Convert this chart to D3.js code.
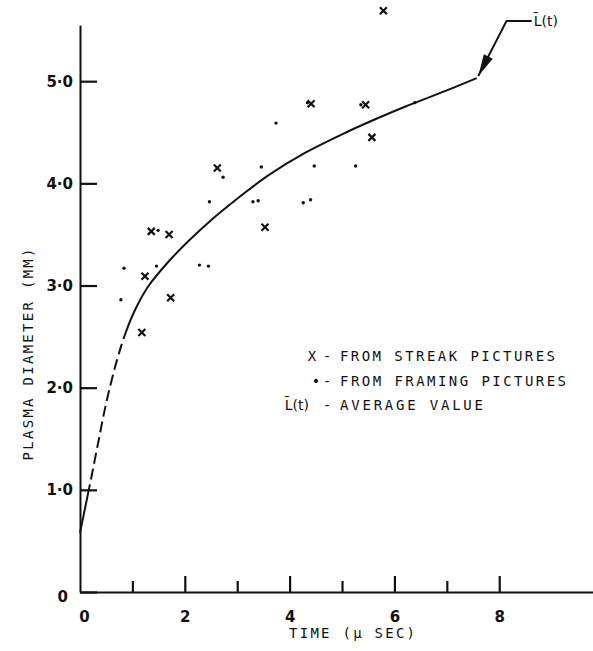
<!DOCTYPE html>
<html>
<head>
<meta charset="utf-8">
<script src="https://cdn.jsdelivr.net/npm/d3@7"></script>
<style>
  body { margin: 0; background: #fff; }
  svg { display: block; }
</style>
</head>
<body>
<svg id="chart" width="593" height="651"></svg>
<script>
// Axis ticks and labels
const xTicks = [0, 1, 2, 3, 4, 5, 6, 7, 8];
const xTickLabels = ["0", "", "2", "", "4", "", "6", "", "8"];
const yTicks = [0, 1, 2, 3, 4, 5];
const yTickLabels = ["0", "1·0", "2·0", "3·0", "4·0", "5·0"];

// Streak-picture measurements (time in µs, diameter in mm)
const streakT = [1.24, 1.18, 1.36, 1.70, 1.73, 2.62, 3.53, 4.41, 5.45, 5.57, 5.79];
const streakV = [3.09, 2.54, 3.53, 3.50, 2.88, 4.15, 3.57, 4.78, 4.77, 4.45, 5.69];

// Framing-picture measurements
const framingT = [0.78, 0.84, 1.46, 1.49, 2.28, 2.45, 2.47, 2.73, 3.30, 3.40, 3.46, 3.74, 4.26, 4.40, 4.47, 4.34, 5.26, 5.36, 6.39];
const framingV = [2.86, 3.17, 3.19, 3.54, 3.20, 3.19, 3.82, 4.06, 3.82, 3.83, 4.16, 4.59, 3.81, 3.84, 4.17, 4.79, 4.17, 4.77, 4.79];

// Average value L(t)
const curveT = [0, 0.10, 0.20, 0.35, 0.50, 0.70, 0.88, 1.05, 1.30, 1.70, 2.10, 2.50, 3.00, 3.60, 4.30, 5.00, 5.60, 6.20, 7.00, 7.57];
const curveV = [0.58, 0.83, 1.08, 1.47, 1.85, 2.26, 2.55, 2.76, 2.99, 3.24, 3.45, 3.64, 3.85, 4.08, 4.30, 4.48, 4.62, 4.75, 4.91, 5.03];
const dashedFrom = 0.19, dashedTo = 0.88;   // extrapolated part of the curve

// Curve label and its leader
const leaderT = [7.60, 8.14, 8.62];
const leaderV = [5.05, 5.59, 5.59];
const curveLabel = "L\u0304(t)";

const legendRows = [
  { sym: "X", text: "FROM STREAK PICTURES" },
  { sym: "\u2022", text: "FROM FRAMING PICTURES" },
  { sym: "L\u0304(t)", text: "AVERAGE VALUE" }
];

const svg = d3.select("#chart");
const x = d3.scaleLinear().domain([0, 9.78]).range([80, 592.5]);
const y = d3.scaleLinear().domain([0, 5.55]).range([592, 25]);

const ink = "#111";
const labelFont = "'DejaVu Sans', sans-serif";
const letterFont = "'DejaVu Sans Mono', monospace";

// Y axis: inward ticks, bold labels
const yAxis = d3.axisLeft(y).tickValues(yTicks).tickSize(-17).tickSizeOuter(0)
  .tickPadding(7).tickFormat((d, i) => yTickLabels[i]);
const gy = svg.append("g").attr("transform", `translate(${x(0)},0)`).call(yAxis);
gy.select(".domain").attr("stroke", ink).attr("stroke-width", 2);
gy.selectAll(".tick line").attr("stroke", ink).attr("stroke-width", 2.2);
gy.selectAll(".tick text").attr("fill", ink).attr("font-family", labelFont)
  .attr("font-weight", "bold").attr("font-size", 15);
gy.selectAll(".tick").filter(d => d === 0).select("text").attr("dx", -5).attr("dy", "0.6em");

// X axis: upward ticks, longer on even values
const xAxis = d3.axisBottom(x).tickValues(xTicks).tickSize(-16).tickSizeOuter(0)
  .tickPadding(19).tickFormat((d, i) => xTickLabels[i]);
const gx = svg.append("g").attr("transform", `translate(0,${y(0)})`).call(xAxis);
gx.select(".domain").attr("stroke", ink).attr("stroke-width", 2);
gx.selectAll(".tick line").attr("stroke", ink).attr("stroke-width", 2.2)
  .attr("y2", d => d === 0 ? 0 : (d % 2 ? -11 : -16));
gx.selectAll(".tick text").attr("fill", ink).attr("font-family", labelFont)
  .attr("font-weight", "bold").attr("font-size", 15);
gx.selectAll(".tick").filter(d => d === 0).select("text").attr("dx", 4);

// Axis titles
svg.append("text")
  .attr("transform", `translate(33,${(y(1.3) + y(3.35)) / 2}) rotate(-90)`)
  .attr("text-anchor", "middle").attr("font-family", letterFont).attr("font-size", 14)
  .attr("fill", ink).attr("textLength", 212).attr("lengthAdjust", "spacing")
  .text("PLASMA DIAMETER (MM)");
svg.append("text")
  .attr("x", 289).attr("y", 638)
  .attr("font-family", letterFont).attr("font-size", 14).attr("fill", ink)
  .attr("textLength", 126).attr("lengthAdjust", "spacing")
  .text("TIME (\u03BC SEC)");

// Average-value curve: one smooth path, dashed over the extrapolated stretch
const line = d3.line().x(d => x(d[0])).y(d => y(d[1])).curve(d3.curveCatmullRom.alpha(0.5));
const curvePts = curveT.map((t, i) => [t, curveV[i]]);
const curvePath = svg.append("path").attr("d", line(curvePts))
  .attr("fill", "none").attr("stroke", ink).attr("stroke-width", 2);
{
  const node = curvePath.node();
  const total = node.getTotalLength();
  const lengthAt = t => {
    let lo = 0, hi = total;
    for (let k = 0; k < 40; k++) {
      const mid = (lo + hi) / 2;
      if (node.getPointAtLength(mid).x < x(t)) lo = mid; else hi = mid;
    }
    return lo;
  };
  const l1 = lengthAt(dashedFrom), l2 = lengthAt(dashedTo);
  const dash = 11, gap = 5;
  const pattern = [l1, gap];
  let pos = l1 + gap;
  while (pos + dash + gap < l2) { pattern.push(dash, gap); pos += dash + gap; }
  pattern.push(total, 0);
  curvePath.attr("stroke-dasharray", pattern.join(","));
}

// Framing points
svg.append("g").selectAll("circle").data(framingT).join("circle")
  .attr("cx", d => x(d)).attr("cy", (d, i) => y(framingV[i]))
  .attr("r", 1.7).attr("fill", ink);

// Streak points
svg.append("g").selectAll("path").data(streakT).join("path")
  .attr("transform", (d, i) => `translate(${x(d)},${y(streakV[i])})`)
  .attr("d", "M-3.5,-3.5L3.5,3.5M3.5,-3.5L-3.5,3.5")
  .attr("stroke", ink).attr("stroke-width", 2.2).attr("fill", "none");

// Leader with arrowhead pointing at the curve end
const lp = leaderT.map((t, i) => [x(t), y(leaderV[i])]);
svg.append("path").attr("d", d3.line()(lp.slice().reverse()))
  .attr("fill", "none").attr("stroke", ink).attr("stroke-width", 2);
{
  const [tx, ty] = lp[0], [bx, by] = lp[1];
  const len = Math.hypot(bx - tx, by - ty), ux = (bx - tx) / len, uy = (by - ty) / len;
  const L = 22, W = 5;
  svg.append("path")
    .attr("d", `M${tx},${ty}L${tx + ux * L - uy * W},${ty + uy * L + ux * W}L${tx + ux * L + uy * W},${ty + uy * L - ux * W}Z`)
    .attr("fill", ink);
}
svg.append("text").attr("x", lp[2][0] + 2).attr("y", lp[2][1] + 5)
  .attr("font-family", labelFont).attr("font-size", 14).attr("fill", ink).text(curveLabel);

// Legend
const lg = svg.append("g").attr("font-family", letterFont).attr("font-size", 14).attr("fill", ink);
const rowY = [361, 386, 410];
const textLen = [215, 226, 143];
legendRows.forEach((r, i) => {
  lg.append("text").attr("x", i === 2 ? 309 : (i === 0 ? 312 : 316)).attr("y", rowY[i])
    .attr("text-anchor", i === 2 ? "end" : "middle")
    .attr("font-family", i === 2 ? labelFont : letterFont).text(r.sym);
  lg.append("text").attr("x", 327).attr("y", rowY[i]).attr("text-anchor", "middle").text("-");
  lg.append("text").attr("x", 340).attr("y", rowY[i])
    .attr("textLength", textLen[i]).attr("lengthAdjust", "spacing").text(r.text);
});
</script>
</body>
</html>
